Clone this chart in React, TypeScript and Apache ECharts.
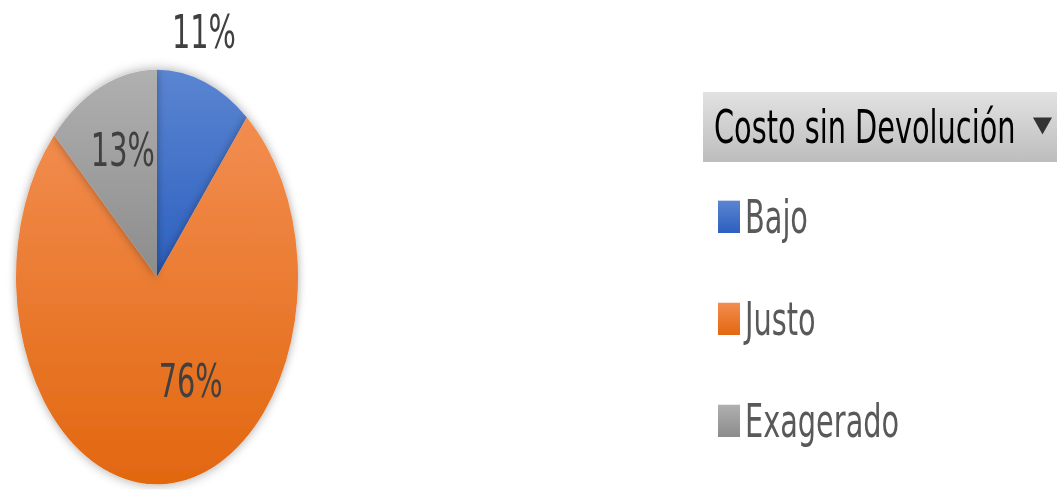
import React, { useEffect, useRef } from "react";
import * as echarts from "echarts";

const categories = ["Bajo", "Justo", "Exagerado"];
const values = [11, 76, 13];
const legendTitle = "Costo sin Devolución";
const topColors = ["#5b85d1", "#f28d50", "#b0b0b0"];
const bottomColors = ["#2c5fbf", "#e2670f", "#8c8c8c"];
const labelOffsets = [
  [22, -98],
  [29, -3],
  [-5, -19],
];

const W = 1057;
const H = 490;
const S = 1.47;
const IH = H / S;
const FONT = '"Liberation Sans Narrow", "Arial Narrow", "DejaVu Sans Condensed", "Liberation Sans", sans-serif';

function grad(top: string, bottom: string) {
  return new echarts.graphic.LinearGradient(0, 0, 0, 1, [
    { offset: 0, color: top },
    { offset: 1, color: bottom },
  ]);
}

export default function App() {
  const ref = useRef<HTMLDivElement>(null);
  useEffect(() => {
    const chart = echarts.init(ref.current!, null, { renderer: "svg" });
    chart.setOption({
      animation: false,
      backgroundColor: "#ffffff",
      legend: {
        orient: "vertical",
        left: 718,
        top: 130,
        padding: 0,
        itemWidth: 22,
        itemHeight: 22,
        itemGap: 34.4,
        itemTextGap: 12,
        icon: "rect",
        data: categories,
        textStyle: {
          fontFamily: FONT,
          fontSize: 32,
          lineHeight: 35,
          color: "#595959",
        },
      },
      graphic: [
        {
          type: "rect",
          shape: { x: 703, y: 62.6, width: 360, height: 47.6 },
          style: { fill: grad("#e2e2e2", "#bdbdbd") },
        },
        {
          type: "text",
          x: 714,
          y: 86,
          style: {
            text: legendTitle,
            fontFamily: FONT,
            fontSize: 32,
            fill: "#000000",
            verticalAlign: "middle",
          },
        },
        {
          type: "polygon",
          shape: {
            points: [
              [1033, 80],
              [1052, 80],
              [1042.5, 91.5],
            ],
          },
          style: { fill: "#333333" },
        },
      ],
      series: [
        {
          type: "pie",
          center: [157, 188.5],
          radius: 141,
          startAngle: 90,
          clockwise: true,
          avoidLabelOverlap: false,
          percentPrecision: 0,
          label: {
            show: true,
            position: "inside",
            formatter: "{d}%",
            fontFamily: FONT,
            fontSize: 32,
            color: "#404040",
          },
          labelLine: { show: false },
          labelLayout: (p: any) => ({
            dx: labelOffsets[p.dataIndex][0],
            dy: labelOffsets[p.dataIndex][1],
          }),
          itemStyle: {
            borderWidth: 0,
            shadowBlur: 8,
            shadowColor: "rgba(0,0,0,0.35)",
          },
          emphasis: { disabled: true },
          data: categories.map((name, i) => ({
            name,
            value: values[i],
            itemStyle: { color: grad(topColors[i], bottomColors[i]) },
          })),
        },
      ],
    });
    return () => chart.dispose();
  }, []);
  return (
    <div
      style={{
        position: "fixed",
        left: 0,
        top: 0,
        width: W,
        height: H,
        overflow: "hidden",
        background: "#ffffff",
      }}
    >
      <div
        ref={ref}
        style={{
          width: W,
          height: IH,
          transform: `scaleY(${S})`,
          transformOrigin: "0 0",
        }}
      />
    </div>
  );
}
